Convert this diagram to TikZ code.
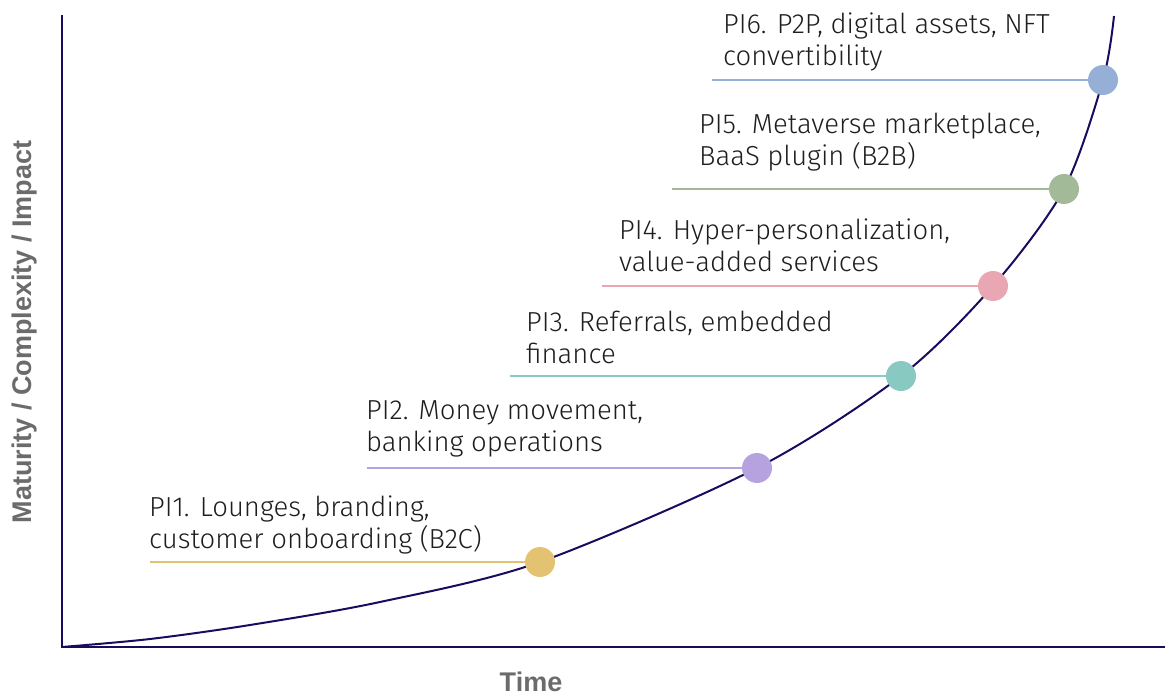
\documentclass[tikz,border=0pt]{standalone}
\usepackage{fontspec}
\setmainfont{Fira Sans Light}
\newfontfamily\axisfont{Liberation Sans}
\begin{document}
\begin{tikzpicture}[x=1pt,y=-1pt,
  axis/.style={draw=navy, line width=2.4pt},
  growth/.style={draw=navy, line width=2pt},
  lead/.style={line width=2.3pt},
  milestone/.style={circle, minimum size=30pt, inner sep=0pt},
  caption/.style={anchor=north west, inner sep=0pt, align=left, text=ink,
    font=\fontsize{27.5}{32}\selectfont},
  axislabel/.style={text=axisgray, font=\axisfont\bfseries\fontsize{27}{31}\selectfont}]
\definecolor{navy}{HTML}{1A0B5E}
\definecolor{ink}{HTML}{1E1E1E}
\definecolor{axisgray}{HTML}{6B6B6B}
\definecolor{cYellow}{HTML}{E3C272}
\definecolor{cPurple}{HTML}{B7A2E0}
\definecolor{cTeal}{HTML}{88C9C1}
\definecolor{cPink}{HTML}{E8A7B2}
\definecolor{cGreen}{HTML}{A2BA98}
\definecolor{cBlue}{HTML}{96AFD7}
\useasboundingbox (0,0) rectangle (1165,695);

% axes
\coordinate (ytop) at (62,15);
\coordinate (origin) at (62,647);
\coordinate (xend) at (1165,647);
\draw[axis] (ytop) -- (origin) -- (xend);

% growth curve
\draw[growth] plot[smooth, tension=0.5] coordinates {(62,647) (150,639) (250,625) (380,602) (540,562) (757,468) (901,376) (993,286) (1064,189) (1103,80) (1114,16)};

% milestone positions on the curve
\coordinate (m1) at (540,562);
\coordinate (m2) at (757,468);
\coordinate (m3) at (901,376);
\coordinate (m4) at (993,286);
\coordinate (m5) at (1064,189);
\coordinate (m6) at (1103,80);

% leader line start points
\coordinate (s1) at (150,562);
\coordinate (s2) at (367,468);
\coordinate (s3) at (510,376);
\coordinate (s4) at (602,286);
\coordinate (s5) at (672,189);
\coordinate (s6) at (712,80);

\draw[lead, cYellow] (s1) -- (m1);
\draw[lead, cPurple] (s2) -- (m2);
\draw[lead, cTeal] (s3) -- (m3);
\draw[lead, cPink] (s4) -- (m4);
\draw[lead, cGreen] (s5) -- (m5);
\draw[lead, cBlue] (s6) -- (m6);

\node[milestone, fill=cYellow] (d1) at (m1) {};
\node[milestone, fill=cPurple] (d2) at (m2) {};
\node[milestone, fill=cTeal] (d3) at (m3) {};
\node[milestone, fill=cPink] (d4) at (m4) {};
\node[milestone, fill=cGreen] (d5) at (m5) {};
\node[milestone, fill=cBlue] (d6) at (m6) {};

% captions
\node[caption] (t1) at (149,496) {PI1. Lounges, branding,\\customer onboarding (B2C)};
\node[caption] (t2) at (366,400) {PI2. Money movement,\\banking operations};
\node[caption] (t3) at (526,311) {PI3. Referrals, embedded\\finance};
\node[caption] (t4) at (619,219) {PI4. Hyper-personalization,\\value-added services};
\node[caption] (t5) at (699,113) {PI5. Metaverse marketplace,\\BaaS plugin (B2B)};
\node[caption] (t6) at (723,13) {PI6. P2P, digital assets, NFT\\convertibility};

% axis labels
\node[axislabel] (xlab) at (531,682) {Time};
\node[axislabel, rotate=90] (ylab) at (25,332) {Maturity / Complexity / Impact};
\end{tikzpicture}
\end{document}
